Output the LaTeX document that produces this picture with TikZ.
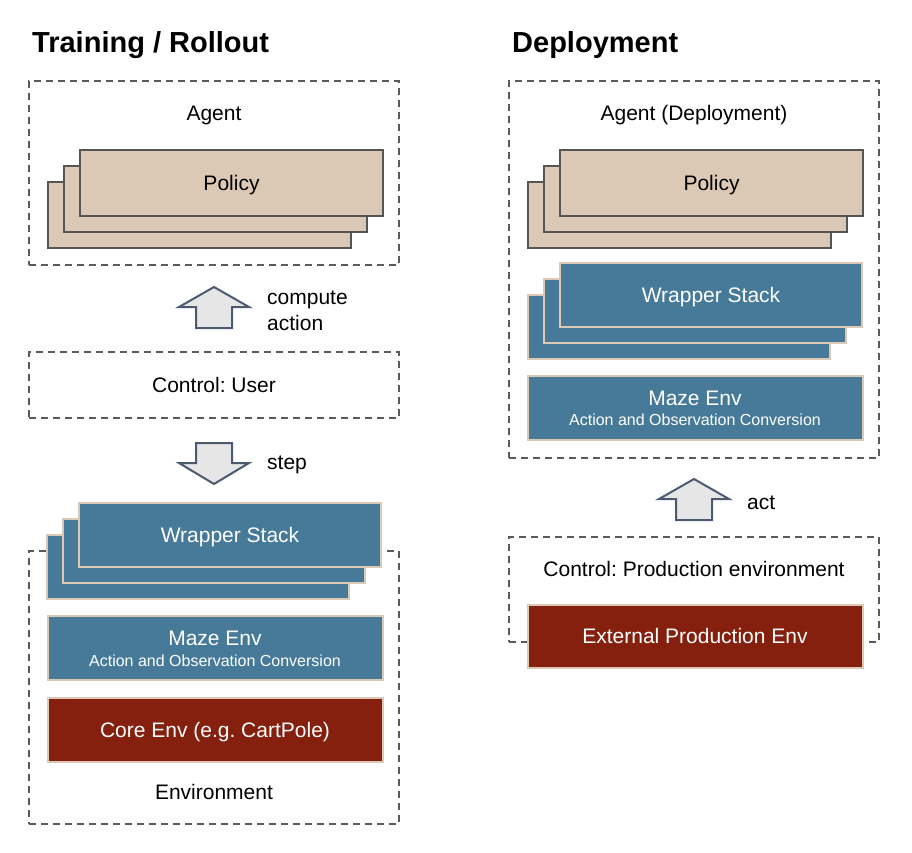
\documentclass[tikz,border=0pt]{standalone}
\usepackage{fontspec}
\setmainfont{Liberation Sans}
\usetikzlibrary{positioning}
\frenchspacing

\definecolor{policytan}{HTML}{DCC9B5}
\definecolor{policyedge}{HTML}{555555}
\definecolor{wrapblue}{HTML}{467A98}
\definecolor{envred}{HTML}{85200F}
\definecolor{framegray}{HTML}{5A5A5A}
\definecolor{arrowedge}{HTML}{4C5A70}
\definecolor{arrowfill}{HTML}{E6E6E6}

\tikzset{
  lbl/.style={inner sep=0pt,font=\fontsize{21}{26}\selectfont,text height=15pt,text depth=0pt},
  smalllbl/.style={inner sep=0pt,font=\fontsize{16}{19}\selectfont,text height=11.5pt,text depth=0pt},
  titlelbl/.style={inner sep=0pt,anchor=west,font=\bfseries\fontsize{29}{34}\selectfont,text height=21pt,text depth=0pt},
  panel/.style={draw=framegray,line width=2pt,dash pattern=on 7pt off 5pt,minimum width=370pt,inner sep=0pt},
  policybox/.style={lbl,draw=policyedge,fill=policytan,line width=2pt,minimum width=303pt,minimum height=66pt},
  wrapbox/.style={lbl,text=white,draw=policytan,fill=wrapblue,line width=2pt,minimum width=302pt,minimum height=64pt},
  mazebox/.style={draw=policytan,fill=wrapblue,line width=2pt,minimum width=335pt,minimum height=64pt,inner sep=0pt},
  envbox/.style={lbl,text=white,draw=policytan,fill=envred,line width=2pt,minimum width=335pt,minimum height=64pt},
  bigarrow/.style={draw=arrowedge,fill=arrowfill,line width=2pt,line join=miter}
}

\begin{document}
\begin{tikzpicture}[x=1pt,y=-1pt]
\useasboundingbox (0,0) rectangle (912,853);

% titles
\node[titlelbl] (traintitle) at (32,42) {Training / Rollout};
\node[titlelbl] (deploytitle) at (512,42) {Deployment};

% ---- training / rollout ----
\node[panel,minimum height=184pt] (agent) at (214,173) {};
\node[lbl] (agentlbl) at (214,113) {Agent};
\node[policybox] (polc) at (199.5,215) {};
\node[policybox] (polb) at (215.5,199) {};
\node[policybox] (pola) at (231.5,183) {Policy};

\draw[bigarrow,shift={(214,328)}] (-18,0) -- (-18,-21) -- (-35,-21) -- (0,-41) -- (35,-21) -- (18,-21) -- (18,0) -- cycle;
\node[lbl,anchor=base west,align=left,text height=,text depth=] (computelbl) at (267,330.5) {compute\\action};

\node[panel,minimum height=66pt] (control) at (214,385) {};
\node[lbl] (controllbl) at (214,385) {Control: User};

\draw[bigarrow,shift={(214,443)}] (-18,0) -- (18,0) -- (18,20) -- (35,20) -- (0,41) -- (-35,20) -- (-18,20) -- cycle;
\node[lbl,anchor=west] (steplbl) at (267,462) {step};

\node[panel,minimum height=273pt] (env) at (214,687.5) {};
\node[lbl] (envlbl) at (214,792) {Environment};
\node[wrapbox] (wrapc) at (198,567) {};
\node[wrapbox] (wrapb) at (214,551) {};
\node[wrapbox] (wrapa) at (230,535) {Wrapper Stack};
\node[mazebox] (maze) at (215,648) {};
\node[lbl,text=white] (mazelbl) at (215,638) {Maze Env};
\node[smalllbl,text=white] (mazesub) at (215,661) {Action and Observation Conversion};
\node[envbox] (core) at (215,730) {Core Env (e.g. CartPole)};

% ---- deployment ----
\node[panel,minimum height=377pt] (depagent) at (694,269.5) {};
\node[lbl] (depagentlbl) at (694,113) {Agent (Deployment)};
\node[policybox] (dpolc) at (679.5,215) {};
\node[policybox] (dpolb) at (695.5,199) {};
\node[policybox] (dpola) at (711.5,183) {Policy};
\node[wrapbox] (dwrapc) at (679,327) {};
\node[wrapbox] (dwrapb) at (695,311) {};
\node[wrapbox] (dwrapa) at (711,295) {Wrapper Stack};
\node[mazebox] (dmaze) at (695,408) {};
\node[lbl,text=white] (dmazelbl) at (695,398) {Maze Env};
\node[smalllbl,text=white] (dmazesub) at (695,420) {Action and Observation Conversion};

\draw[bigarrow,shift={(694,520)}] (-18,0) -- (-18,-21) -- (-35,-21) -- (0,-41) -- (35,-21) -- (18,-21) -- (18,0) -- cycle;
\node[lbl,anchor=west] (actlbl) at (747,502) {act};

\node[panel,minimum height=105pt] (prodctrl) at (694,589.5) {};
\node[lbl] (prodctrllbl) at (694,569) {Control: Production environment};
\node[envbox,minimum height=63pt] (extenv) at (695,636) {External Production Env};
\end{tikzpicture}
\end{document}
